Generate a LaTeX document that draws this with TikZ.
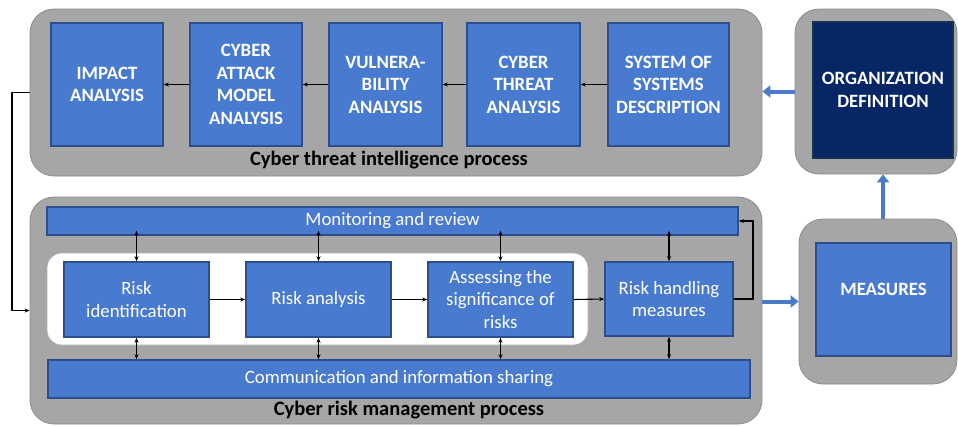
\documentclass[tikz,border=0pt]{standalone}
\usepackage{fontspec}
\setmainfont{Carlito}
\usetikzlibrary{arrows.meta}
\definecolor{boxblue}{RGB}{72,122,208}
\definecolor{boxedge}{RGB}{44,78,140}
\definecolor{navy}{RGB}{6,38,102}
\definecolor{panel}{RGB}{166,166,166}
\definecolor{paneledge}{RGB}{140,140,140}
\definecolor{arrowblue}{RGB}{74,122,200}
\begin{document}
\begin{tikzpicture}[x=1pt,y=-1pt,
  panelbox/.style={draw=paneledge,fill=panel,line width=0.8pt,rounded corners=24pt,inner sep=0pt},
  bluebox/.style={draw=boxedge,fill=boxblue,line width=1.6pt,inner sep=2pt,text=white,align=center},
  capsbox/.style={bluebox,font=\fontsize{18.8}{22.5}\selectfont\bfseries},
  lowbox/.style={bluebox,font=\fontsize{18.8}{22.5}\selectfont},
  titletext/.style={font=\fontsize{20.5}{24}\selectfont\bfseries,text=black,inner sep=0pt},
  flow/.style={-{Stealth[length=5pt,width=4pt]},line width=1.1pt,black},
  bidir/.style={{Stealth[length=5pt,width=4pt]}-{Stealth[length=5pt,width=4pt]},line width=1.1pt,black},
  bigarrow/.style={-{Triangle[length=8pt,width=12pt]},line width=4pt,arrowblue}]
\useasboundingbox (0,0) rectangle (958,426);
% panels
\node[panelbox,minimum width=732pt,minimum height=167pt] (topgray) at (396,92.5) {};
\node[panelbox,minimum width=162pt,minimum height=165pt] (orggray) at (876,91.5) {};
\node[panelbox,minimum width=158pt,minimum height=165pt] (measgray) at (878,301.5) {};
\node[panelbox,minimum width=732pt,minimum height=227pt] (botgray) at (396,310.5) {};
% top boxes
\node[capsbox,minimum width=112pt,minimum height=123pt] (imp) at (107,84.5) {IMPACT\\ANALYSIS};
\node[capsbox,minimum width=112pt,minimum height=123pt] (att) at (246,84.5) {CYBER\\ATTACK\\MODEL\\ANALYSIS};
\node[capsbox,minimum width=113pt,minimum height=123pt] (vul) at (385.5,84.5) {VULNERA-\\BILITY\\ANALYSIS};
\node[capsbox,minimum width=113pt,minimum height=123pt] (thr) at (523.5,84.5) {CYBER\\THREAT\\ANALYSIS};
\node[capsbox,minimum width=121pt,minimum height=123pt] (sos) at (668.5,84.5) {SYSTEM OF\\SYSTEMS\\DESCRIPTION};
\node[titletext] (toplabel) at (389,160) {Cyber threat intelligence process};
% org and measures
\node[capsbox,fill=navy,draw=boxedge!60!black,minimum width=140pt,minimum height=136pt] (org) at (883,90) {ORGANIZATION\\DEFINITION};
\node[capsbox,minimum width=135pt,minimum height=113pt,text depth=20pt] (meas) at (883.5,299.5) {MEASURES};
% lower part
\node[lowbox,minimum width=691pt,minimum height=28pt,inner sep=0pt] (mon) at (392.5,221) {Monitoring and review};
\node[lowbox,minimum width=702pt,minimum height=38pt,inner sep=0pt] (comm) at (399,379) {Communication and information sharing};
\node[draw=paneledge!70,fill=white,line width=0.6pt,rounded corners=15pt,minimum width=541pt,minimum height=92pt,inner sep=0pt] (inner) at (317.5,299) {};
\node[lowbox,minimum width=145pt,minimum height=75pt] (ri) at (136.5,299.5) {Risk\\identification};
\node[lowbox,minimum width=145pt,minimum height=75pt] (ra) at (318.5,299.5) {Risk analysis};
\node[lowbox,minimum width=145pt,minimum height=75pt] (as) at (500.5,299.5) {Assessing the\\significance of\\risks};
\node[lowbox,minimum width=128pt,minimum height=74pt] (rh) at (669,299) {Risk handling\\measures};
\node[titletext] (botlabel) at (409,410) {Cyber risk management process};
% top flow arrows
\draw[flow] (sos.west) -- (thr.east);
\draw[flow] (thr.west) -- (vul.east);
\draw[flow] (vul.west) -- (att.east);
\draw[flow] (att.west) -- (imp.east);
% feedback from top panel to bottom panel
\coordinate (fbx) at (12,0);
\draw[flow] (topgray.west) -- (topgray.west -| fbx) |- (botgray.west);
% lower flow arrows
\draw[flow] (ri.east) -- (ra.west);
\draw[flow] (ra.east) -- (as.west);
\draw[flow] (as.east) -- (rh.west);
\coordinate (rhx) at (753,0);
\draw[flow] (rh.east) -- (rh.east -| rhx) |- (mon.east);
% bidirectional arrows
\foreach \b in {ri,ra,as,rh}{
  \draw[bidir] ([yshift=5pt]\b.north |- mon.south) -- (\b.north);
  \draw[bidir] (\b.south) -- (\b.south |- comm.north);
}
% big blue arrows
\draw[bigarrow] (orggray.west) -- (orggray.west -| topgray.east);
\draw[bigarrow] (measgray.west -| botgray.east) -- (measgray.west);
\draw[bigarrow] (org.center |- measgray.north) -- (org.center |- orggray.south);
\end{tikzpicture}
\end{document}
